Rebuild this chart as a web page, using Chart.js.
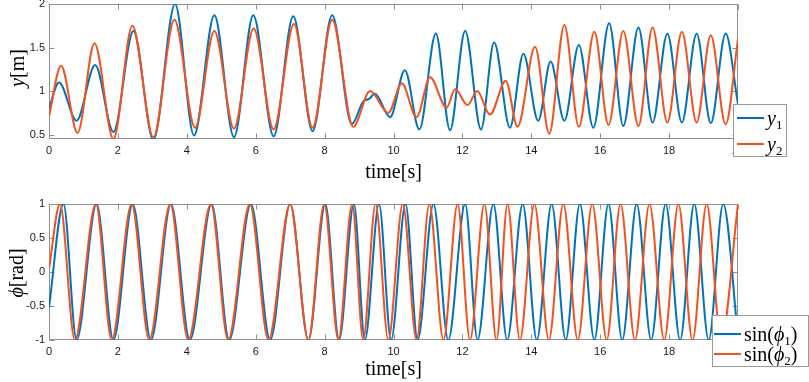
<!DOCTYPE html>
<html>
<head>
<meta charset="utf-8">
<script src="https://cdn.jsdelivr.net/npm/chart.js@4.4.1/dist/chart.umd.min.js"></script>
<style>
  body { margin: 0; background: #fff; }
  #wrap { position: relative; width: 809px; height: 382px; overflow: hidden; }
  canvas { position: absolute; left: 0; }
  .ylab { position: absolute; font-family: 'Liberation Serif', 'DejaVu Serif', serif; font-size: 20px; color: #000;
          white-space: nowrap; transform: translate(-50%, -50%) rotate(-90deg); line-height: 1; }
  .legend { position: absolute; box-sizing: border-box; background: #fff; border: 1px solid #9a9a9a;
            font-family: 'Liberation Serif', 'DejaVu Serif', serif; color: #000; }
  .legend .row { position: absolute; display: flex; align-items: center; }
  .legend .sw { width: 27px; height: 2px; margin-right: 3px; }
  .legend .tx { font-size: 20px; line-height: 20px; white-space: nowrap; }
  .legend sub { font-size: 13px; line-height: 0; vertical-align: -4px; }
</style>
</head>
<body>
<div id="wrap">
  <canvas id="top" width="809" height="190" style="top:0"></canvas>
  <canvas id="bot" width="809" height="192" style="top:190px"></canvas>

  <div class="ylab" style="left:17px; top:68px;"><i>y</i>[m]</div>
  <div class="ylab" style="left:16px; top:273px;"><i>ϕ</i>[rad]</div>

  <div class="legend" style="left:733px; top:104px; width:54px; height:53px;">
    <div class="row" style="left:3px; top:0; height:26px;"><span class="sw" style="background:#0072BD"></span><span class="tx"><i>y</i><sub>1</sub></span></div>
    <div class="row" style="left:3px; top:26px; height:26px;"><span class="sw" style="background:#F4511E"></span><span class="tx"><i>y</i><sub>2</sub></span></div>
  </div>
  <div class="legend" style="left:712px; top:315px; width:97px; height:52px;">
    <div class="row" style="left:1px; top:7px; height:22px;"><span class="sw" style="background:#0072BD"></span><span class="tx">sin(<i>ϕ</i><sub>1</sub>)</span></div>
    <div class="row" style="left:1px; top:27px; height:22px;"><span class="sw" style="background:#F4511E"></span><span class="tx">sin(<i>ϕ</i><sub>2</sub>)</span></div>
  </div>
</div>

<script>
// time ticks shared by both plots
const xTicks = [0, 2, 4, 6, 8, 10, 12, 14, 16, 18, 20];
const yTicksTop = [0.5, 1, 1.5, 2];
const yTicksBot = [-1, -0.5, 0, 0.5, 1];

// y1 / y2 : extrema
const y1T = [0, 0.29, 0.80, 1.34, 1.87, 2.45, 3.03, 3.66, 4.21, 4.80, 5.37, 5.93, 6.52, 7.09, 7.65, 8.22, 8.79, 9.12, 9.29, 9.46, 9.90,
  10.33, 10.75, 11.23, 11.64, 12.08, 12.54, 12.92, 13.38, 13.77, 14.20, 14.56, 14.96, 15.38, 15.80, 16.26, 16.67, 17.11, 17.52,
  17.95, 18.37, 18.80, 19.21, 19.64, 20];
const y1V = [0.80, 1.10, 0.66, 1.30, 0.53, 1.69, 0.44, 2.00, 0.49, 1.87, 0.47, 1.87, 0.48, 1.86, 0.54, 1.87, 0.62, 0.88, 0.91, 0.97, 0.70,
  1.24, 0.56, 1.66, 0.55, 1.69, 0.56, 1.56, 0.58, 1.43, 0.66, 1.34, 0.66, 1.53, 0.58, 1.78, 0.60, 1.73, 0.64,
  1.66, 0.64, 1.66, 0.63, 1.66, 0.85];

const y2T = [0, 0.35, 0.83, 1.32, 1.87, 2.42, 3.03, 3.64, 4.24, 4.80, 5.37, 5.94, 6.52, 7.11, 7.65, 8.22, 8.83, 9.32, 9.85,
  10.24, 10.67, 11.06, 11.54, 11.79, 12.15, 12.43, 12.80, 13.26, 13.60, 14.11, 14.52, 14.96, 15.38, 15.83, 16.24, 16.67,
  17.11, 17.52, 17.95, 18.37, 18.80, 19.21, 19.64, 20];
const y2V = [0.71, 1.29, 0.52, 1.55, 0.45, 1.75, 0.47, 1.82, 0.58, 1.69, 0.57, 1.72, 0.56, 1.77, 0.58, 1.82, 0.59, 1.00, 0.75,
  1.09, 0.70, 1.16, 0.81, 1.02, 0.84, 1.00, 0.73, 1.12, 0.59, 1.51, 0.51, 1.76, 0.59, 1.68, 0.61, 1.69,
  0.60, 1.73, 0.64, 1.68, 0.64, 1.64, 0.62, 1.60];

// sin(phi1) / sin(phi2) : extrema
const p1T = [0, 0.42, 0.80, 1.38, 1.87, 2.43, 2.96, 3.54, 4.09, 4.72, 5.23, 5.86, 6.42, 7.00, 7.53, 8.02, 8.42, 8.85, 9.17, 9.58, 9.93,
  10.35, 10.70, 11.16, 11.59, 12.08, 12.44, 12.90, 13.30, 13.75, 14.16, 14.59, 15.00, 15.41, 15.83, 16.24, 16.64, 17.06,
  17.48, 17.90, 18.32, 18.73, 19.15, 19.57, 20];
const p1V = [-0.52, 1, -1, 1, -1, 1, -1, 1, -1, 1, -1, 1, -1, 1, -1, 1, -1, 1, -1, 1, -1,
  1, -1, 1, -1, 1, -1, 1, -1, 1, -1, 1, -1, 1, -1, 1, -1, 1,
  -1, 1, -1, 1, -1, 1, -0.95];

const p2T = [0, 0.32, 0.75, 1.36, 1.82, 2.40, 2.91, 3.52, 4.04, 4.70, 5.20, 5.83, 6.37, 7.00, 7.53, 7.99, 8.40, 8.80, 9.12, 9.48, 9.85,
  10.27, 10.67, 11.04, 11.45, 11.86, 12.22, 12.64, 12.99, 13.31, 13.67, 14.09, 14.51, 14.93, 15.35, 15.77, 16.19, 16.59,
  17.01, 17.43, 17.86, 18.27, 18.68, 19.09, 19.51, 20];
const p2V = [0.05, 1, -1, 1, -1, 1, -1, 1, -1, 1, -1, 1, -1, 1, -1, 1, -1, 1, -1, 1, -1,
  1, -1, 1, -1, 1, -1, 1, -1, 1, -1, 1, -1, 1, -1, 1, -1, 1,
  -1, 1, -1, 1, -1, 1, -1, 1];

const BLUE = '#0072BD';
const ORANGE = '#F4511E';
const toPts = (ts, vs) => ts.map((t, i) => ({ x: t, y: vs[i] }));

// MATLAB-like box with inward ticks on all four sides
const boxPlugin = {
  id: 'matlabBox',
  beforeDatasetsDraw(chart) {
    const { ctx, chartArea: a, scales: { x, y } } = chart;
    const L = Math.round(a.left) + 0.5, R = Math.round(a.right) - 0.5;
    const T = Math.round(a.top) + 0.5, B = Math.round(a.bottom) - 0.5;
    ctx.save();
    ctx.strokeStyle = '#8f8f8f';
    ctx.lineWidth = 1;
    ctx.beginPath();
    x.ticks.forEach(t => {
      const px = Math.round(x.getPixelForValue(t.value)) + 0.5;
      ctx.moveTo(px, B); ctx.lineTo(px, B - 5);
      ctx.moveTo(px, T); ctx.lineTo(px, T + 5);
    });
    y.ticks.forEach(t => {
      const py = Math.round(y.getPixelForValue(t.value)) + 0.5;
      ctx.moveTo(L, py); ctx.lineTo(L + 5, py);
      ctx.moveTo(R, py); ctx.lineTo(R - 5, py);
    });
    ctx.stroke();
    ctx.strokeRect(L, T, R - L, B - T);
    ctx.restore();
  }
};

function makeChart(id, series, yMin, yMax, yTicks, padTop, xHeight, titlePadBottom) {
  return new Chart(document.getElementById(id), {
    type: 'line',
    data: {
      datasets: series.map(s => ({
        data: s.data,
        borderColor: s.color,
        order: s.order,
        borderWidth: 2,
        pointRadius: 0,
        fill: false,
        cubicInterpolationMode: 'monotone'
      }))
    },
    options: {
      responsive: false,
      animation: false,
      layout: { padding: { top: padTop, right: 71, left: 0, bottom: 0 } },
      plugins: { legend: { display: false }, tooltip: { enabled: false } },
      scales: {
        x: {
          type: 'linear', min: 0, max: 20,
          afterBuildTicks: s => { s.ticks = xTicks.map(v => ({ value: v })); },
          afterFit: s => { s.height = xHeight; s.paddingLeft = 0; s.paddingRight = 0; },
          grid: { display: false, drawTicks: false },
          border: { display: false },
          ticks: { autoSkip: false, maxRotation: 0, padding: 5, color: '#1a1a1a',
                   font: { family: 'Liberation Sans', size: 11 }, callback: v => String(v) },
          title: { display: true, text: 'time[s]', color: '#000',
                   font: { family: 'Liberation Serif', size: 20 }, padding: { top: 0, bottom: titlePadBottom } }
        },
        y: {
          min: yMin, max: yMax,
          afterBuildTicks: s => { s.ticks = yTicks.map(v => ({ value: v })); },
          afterFit: s => { s.width = 49; s.paddingTop = 0; s.paddingBottom = 0; },
          grid: { display: false, drawTicks: false },
          border: { display: false },
          ticks: { padding: 4, color: '#1a1a1a', font: { family: 'Liberation Sans', size: 11 },
                   callback: v => String(v) }
        }
      }
    },
    plugins: [boxPlugin]
  });
}

makeChart('top', [
  { data: toPts(y1T, y1V), color: BLUE, order: 1 },
  { data: toPts(y2T, y2V), color: ORANGE, order: 0 }
], 0.45, 2, yTicksTop, 4, 51, 5);

makeChart('bot', [
  { data: toPts(p1T, p1V), color: BLUE, order: 1 },
  { data: toPts(p2T, p2V), color: ORANGE, order: 0 }
], -1, 1, yTicksBot, 14, 42, 0);
</script>
</body>
</html>
